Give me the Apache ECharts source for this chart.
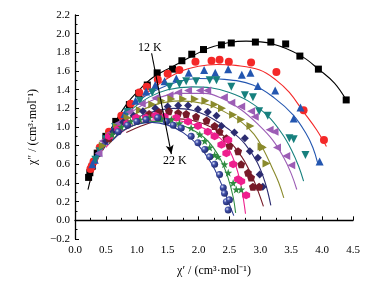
<!DOCTYPE html>
<html>
<head>
<meta charset="utf-8">
<script src="https://cdn.jsdelivr.net/npm/echarts@6/dist/echarts.min.js"></script>
<style>
  html, body { margin: 0; padding: 0; background: #fff; }
  #main { width: 371px; height: 286px; }
</style>
</head>
<body>
<div id="main"></div>
<script>
// temperatures, 12 K .. 22 K
var temps = ['12 K', '13 K', '14 K', '15 K', '16 K', '17 K', '18 K', '19 K', '20 K', '21 K', '22 K'];

// measured points [chi', chi'']
var pts12 = [[0.22,0.46],[0.24,0.51],[0.28,0.58],[0.36,0.72],[0.5,0.9],[0.66,1.06],[0.88,1.24],[1.03,1.36],[1.17,1.45],[1.33,1.58],[1.58,1.62],[1.73,1.71],[1.89,1.78],[2.08,1.83],[2.37,1.88],[2.53,1.90],[2.92,1.91],[3.17,1.91],[3.41,1.89],[3.64,1.76],[3.94,1.62],[4.39,1.29]];
var pts13 = [[0.25,0.55],[0.27,0.58],[0.3,0.63],[0.4,0.78],[0.55,0.95],[0.75,1.12],[0.9,1.25],[1.04,1.37],[1.16,1.43],[1.34,1.51],[1.5,1.57],[1.69,1.61],[1.95,1.70],[2.21,1.71],[2.34,1.72],[2.49,1.70],[2.85,1.69],[3.26,1.59],[3.70,1.18],[4.03,0.86]];
var pts14 = [[0.28,0.6],[0.32,0.65],[0.38,0.73],[0.48,0.85],[0.62,0.98],[0.8,1.14],[0.98,1.28],[1.15,1.38],[1.3,1.45],[1.45,1.49],[1.64,1.52],[1.84,1.58],[2.09,1.61],[2.27,1.58],[2.48,1.62],[2.70,1.56],[2.84,1.58],[2.96,1.44],[3.24,1.39],[3.54,1.09],[3.65,1.21],[3.96,0.63]];
var pts15 = [[0.33,0.65],[0.4,0.74],[0.5,0.87],[0.65,1.0],[0.85,1.16],[1.05,1.28],[1.25,1.37],[1.53,1.43],[1.69,1.46],[1.80,1.49],[1.96,1.49],[2.18,1.50],[2.29,1.50],[2.53,1.43],[2.75,1.34],[2.88,1.32],[2.98,1.17],[3.12,1.12],[3.47,0.88],[3.54,0.87],[3.73,0.70]];
var pts16 = [[0.38,0.72],[0.45,0.85],[0.55,0.93],[0.7,1.04],[0.88,1.16],[1.08,1.25],[1.3,1.31],[1.53,1.34],[1.67,1.37],[1.83,1.39],[2.02,1.39],[2.14,1.39],[2.41,1.32],[2.53,1.26],[2.69,1.22],[2.85,1.17],[2.91,1.11],[3.15,0.97],[3.23,0.95],[3.27,0.78],[3.42,0.69],[3.50,0.59]];
var pts17 = [[0.45,0.8],[0.55,0.9],[0.68,1.0],[0.85,1.1],[1.05,1.18],[1.25,1.24],[1.4,1.28],[1.56,1.30],[1.75,1.30],[1.94,1.30],[2.11,1.28],[2.26,1.24],[2.38,1.20],[2.56,1.13],[2.69,1.08],[2.84,1.01],[3.02,0.79],[3.04,0.78],[3.10,0.61]];
var pts18 = [[0.5,0.85],[0.62,0.95],[0.78,1.05],[0.95,1.12],[1.1,1.17],[1.3,1.2],[1.5,1.22],[1.67,1.23],[1.83,1.23],[1.99,1.19],[2.15,1.16],[2.29,1.12],[2.37,1.01],[2.58,0.94],[2.75,0.88],[2.83,0.74],[2.96,0.67],[2.99,0.49],[3.04,0.36]];
var pts19 = [[0.55,0.88],[0.7,0.97],[0.85,1.04],[1.0,1.1],[1.2,1.14],[1.36,1.16],[1.52,1.17],[1.67,1.15],[1.80,1.14],[1.96,1.11],[2.13,1.07],[2.26,1.01],[2.34,0.95],[2.45,0.88],[2.50,0.80],[2.64,0.74],[2.69,0.60],[2.80,0.51],[2.85,0.46],[2.88,0.36],[2.98,0.36]];
var pts20 = [[0.55,0.9],[0.7,0.98],[0.85,1.04],[0.99,1.10],[1.15,1.10],[1.3,1.12],[1.45,1.11],[1.64,1.10],[1.83,1.06],[1.99,1.01],[2.15,0.95],[2.26,0.90],[2.37,0.81],[2.48,0.86],[2.45,0.72],[2.56,0.60],[2.64,0.44],[2.69,0.42],[2.77,0.27]];
var pts21 = [[0.6,0.92],[0.75,1.0],[0.9,1.06],[1.05,1.08],[1.2,1.1],[1.4,1.09],[1.56,1.08],[1.69,1.04],[1.88,0.99],[2.02,0.92],[2.10,0.85],[2.18,0.78],[2.26,0.70],[2.31,0.68],[2.42,0.60],[2.48,0.51],[2.56,0.40],[2.61,0.33],[2.69,0.33]];
var pts22 = [[0.7,0.95],[0.85,1.02],[1.0,1.06],[1.15,1.08],[1.34,1.10],[1.48,1.06],[1.59,1.02],[1.72,0.99],[1.88,0.90],[1.99,0.83],[2.10,0.76],[2.18,0.68],[2.26,0.60],[2.34,0.49],[2.40,0.35],[2.42,0.29],[2.45,0.20],[2.48,0.11],[2.50,0.22]];

// fitted curves
var fit12 = [[0.21,0.33],[0.3,0.55],[0.45,0.82],[0.6,1.0],[0.83,1.24],[1.0,1.37],[1.26,1.53],[1.59,1.65],[1.9,1.76],[2.23,1.86],[2.77,1.92],[3.2,1.89],[3.64,1.77],[3.96,1.61],[4.2,1.47],[4.39,1.29]];
var fit13 = [[0.24,0.42],[0.35,0.62],[0.5,0.84],[0.7,1.05],[0.9,1.2],[1.1,1.33],[1.4,1.48],[1.69,1.59],[2.0,1.65],[2.3,1.67],[2.6,1.66],[2.99,1.61],[3.26,1.50],[3.47,1.37],[3.69,1.17],[3.91,0.97],[4.07,0.79]];
var fit14 = [[0.26,0.5],[0.4,0.72],[0.6,0.98],[0.8,1.15],[1.0,1.27],[1.3,1.39],[1.69,1.49],[2.0,1.52],[2.42,1.51],[2.88,1.45],[3.23,1.31],[3.53,1.13],[3.74,0.93],[3.85,0.78],[3.93,0.61]];
var fit15 = [[0.3,0.55],[0.45,0.78],[0.65,1.0],[0.9,1.18],[1.2,1.32],[1.5,1.40],[1.9,1.43],[2.2,1.42],[2.5,1.37],[2.8,1.28],[3.12,1.12],[3.35,0.93],[3.5,0.76],[3.62,0.58],[3.70,0.42]];
var fit16 = [[0.33,0.6],[0.5,0.85],[0.7,1.03],[1.0,1.2],[1.3,1.3],[1.7,1.36],[2.1,1.36],[2.4,1.30],[2.7,1.18],[2.96,1.03],[3.2,0.86],[3.38,0.67],[3.5,0.5],[3.59,0.33]];
var fit17 = [[0.4,0.7],[0.55,0.88],[0.75,1.03],[1.0,1.15],[1.3,1.24],[1.7,1.28],[2.1,1.25],[2.4,1.17],[2.7,1.05],[2.9,0.92],[3.05,0.76],[3.2,0.55],[3.3,0.4],[3.38,0.24]];
var fit18 = [[0.45,0.75],[0.6,0.9],[0.8,1.02],[1.0,1.1],[1.3,1.17],[1.6,1.20],[1.9,1.18],[2.2,1.10],[2.5,0.97],[2.75,0.82],[2.95,0.62],[3.08,0.40],[3.17,0.16]];
var fit19 = [[0.83,0.94],[1.07,1.01],[1.3,1.06],[1.6,1.09],[1.9,1.07],[2.2,1.00],[2.45,0.88],[2.7,0.68],[2.88,0.45],[3.05,0.15]];
var fit20 = [[0.5,0.78],[0.7,0.92],[0.95,1.02],[1.2,1.07],[1.5,1.08],[1.8,1.05],[2.1,0.98],[2.35,0.88],[2.5,0.75],[2.62,0.55],[2.7,0.33],[2.76,0.07]];
var fit21 = [[0.55,0.82],[0.75,0.95],[1.0,1.03],[1.3,1.06],[1.6,1.04],[1.9,0.97],[2.15,0.85],[2.35,0.66],[2.48,0.45],[2.56,0.25],[2.6,0.08]];
var fit22 = [[0.6,0.85],[0.8,0.97],[1.0,1.03],[1.25,1.05],[1.5,1.02],[1.75,0.94],[2.0,0.80],[2.2,0.62],[2.35,0.42],[2.47,0.22],[2.57,0.05]];

var ptsList = [pts12, pts13, pts14, pts15, pts16, pts17, pts18, pts19, pts20, pts21, pts22];
var fitList = [fit12, fit13, fit14, fit15, fit16, fit17, fit18, fit19, fit20, fit21, fit22];

var colors = ['#000000', '#f42828', '#2356b0', '#17807e', '#9c5db5', '#8a8a2c', '#2c2c70', '#771b28', '#ee1f8d', '#2f8b40', '#2b3990'];

var pentagon = 'path://M0,-10 L9.51,-3.09 L5.88,8.09 L-5.88,8.09 L-9.51,-3.09 Z';
var hexagon = 'path://M8.66,-5 L8.66,5 L0,10 L-8.66,5 L-8.66,-5 L0,-10 Z';
var star = 'path://M0,-10 L2.35,-3.24 L9.51,-3.09 L3.80,1.24 L5.88,8.09 L0,4 L-5.88,8.09 L-3.80,1.24 L-9.51,-3.09 L-2.35,-3.24 Z';
var symbols = ['rect', 'circle', 'triangle', 'triangle', 'triangle', 'triangle', 'diamond', pentagon, hexagon, star, 'circle'];
var rotates = [0, 0, 0, 180, 90, -90, 0, 0, 0, 0, 0];
var sizes = [7, 8, 8, 8, 8, 8, 8, 8, 8, 8, 7];

var serif = 'Liberation Serif';
var series = [];
for (var i = 0; i < temps.length; i++) {
  series.push({
    name: temps[i] + ' fit',
    type: 'line',
    data: fitList[i],
    smooth: 0.4,
    showSymbol: false,
    silent: true,
    z: 3,
    lineStyle: { color: colors[i], width: 1.1 }
  });
}
for (var i = 0; i < temps.length; i++) {
  var color = colors[i];
  if (i == 10) {
    color = {
      type: 'radial', x: 0.35, y: 0.35, r: 0.75,
      colorStops: [{ offset: 0, color: '#d8ddf5' }, { offset: 0.35, color: '#4150a8' }, { offset: 1, color: '#1b2466' }]
    };
  }
  series.push({
    name: temps[i],
    type: 'scatter',
    data: ptsList[i],
    symbol: symbols[i],
    symbolRotate: rotates[i],
    symbolSize: sizes[i],
    z: 4,
    itemStyle: { color: color, opacity: 1 }
  });
}
// arrow 12 K -> 22 K
series[0].markLine = {
  silent: true,
  symbol: ['none', 'arrow'],
  symbolSize: [6, 9],
  label: { show: false },
  lineStyle: { color: '#000', width: 1.1, type: 'solid' },
  data: [[{ coord: [1.24, 1.79] }, { coord: [1.56, 0.71] }]]
};

var fmt = function (v) { return v.toFixed(1).replace('-', '\u2212'); };

var chart = echarts.init(document.getElementById('main'));
chart.setOption({
  animation: false,
  backgroundColor: '#fff',
  grid: { left: 75, right: 18, top: 15, bottom: 47 },
  xAxis: {
    type: 'value', min: 0, max: 4.5, interval: 0.5,
    name: '\u03c7\u2032 / (cm\u00b3\u00b7mol\u207b\u00b9)',
    nameLocation: 'middle', nameGap: 26,
    nameTextStyle: { fontFamily: serif, fontSize: 12, color: '#000' },
    axisLine: { lineStyle: { color: '#000', width: 1.3 } },
    axisTick: { inside: true, length: 4, lineStyle: { color: '#000' } },
    minorTick: { show: true, splitNumber: 2, length: 2.5, lineStyle: { color: '#000' } },
    axisLabel: { fontFamily: serif, fontSize: 11, color: '#000', margin: 6, formatter: fmt },
    splitLine: { show: false }
  },
  yAxis: {
    type: 'value', min: -0.2, max: 2.2, interval: 0.2,
    name: '\u03c7\u2033 / (cm\u00b3\u00b7mol\u207b\u00b9)',
    nameLocation: 'middle', nameGap: 33,
    nameTextStyle: { fontFamily: serif, fontSize: 12, color: '#000' },
    axisLine: { show: true, onZero: false, lineStyle: { color: '#000', width: 1.3 } },
    axisTick: { inside: true, length: 4, lineStyle: { color: '#000' } },
    minorTick: { show: true, splitNumber: 2, length: 2.5, lineStyle: { color: '#000' } },
    axisLabel: { fontFamily: serif, fontSize: 11, color: '#000', margin: 5, formatter: fmt },
    splitLine: { show: false }
  },
  graphic: [
    { type: 'text', left: 138, top: 42, style: { text: '12 K', font: '12px "Liberation Serif"', fill: '#000' } },
    { type: 'text', left: 163, top: 155, style: { text: '22 K', font: '12px "Liberation Serif"', fill: '#000' } }
  ],
  series: series
});
</script>
</body>
</html>
